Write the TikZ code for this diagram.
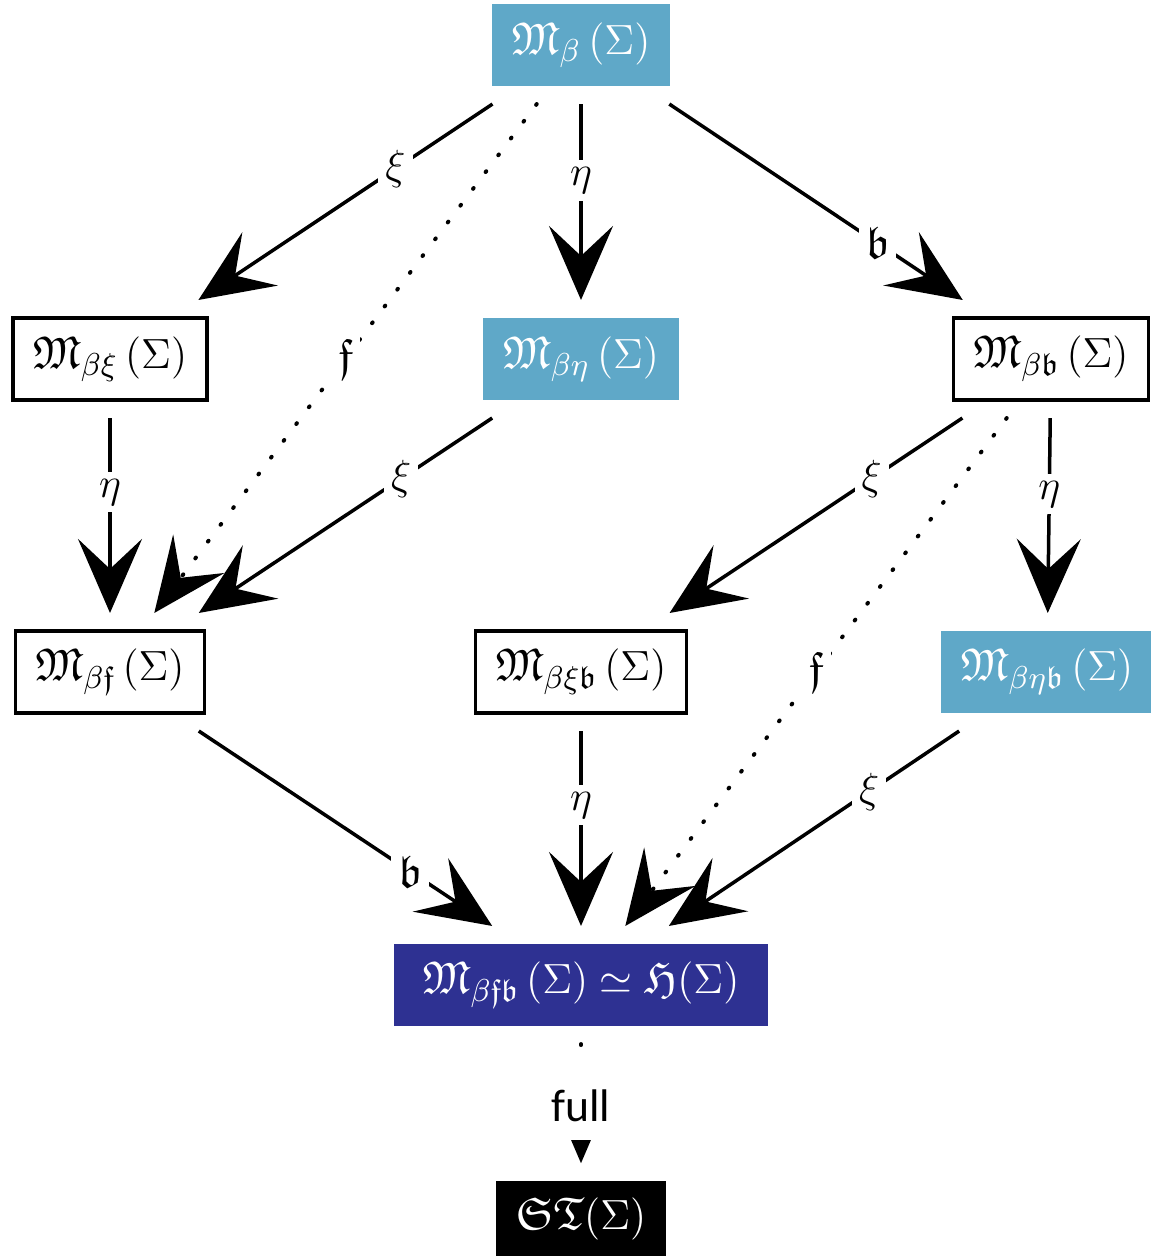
\documentclass[tikz,border=0pt]{standalone}
\usepackage{amssymb}
\usepackage{fontspec}
\newfontfamily\fullfont{Carlito}
\usetikzlibrary{arrows.meta}
\definecolor{mlightblue}{HTML}{5FA8C8}
\definecolor{mdarkblue}{HTML}{2E3192}

\begin{document}
\begin{tikzpicture}[x=0.01cm, y=-0.01cm,
    every node/.style={font=\fontsize{13}{16}\selectfont},
    mbox/.style={draw=black, line width=0.035cm, minimum height=0.82cm, inner xsep=0.2cm, outer sep=0.18cm},
    mfill/.style={fill=#1, text=white, minimum height=0.82cm, inner xsep=0.2cm, outer sep=0.18cm},
    arr/.style={-{Stealth[length=0.74cm, width=0.64cm, inset=0.3cm]}, line width=0.035cm},
    dotarr/.style={arr, dash pattern=on 0.01cm off 0.2cm, line cap=round, line width=0.04cm},
    lbl/.style={fill=white, inner sep=2pt}]
  \useasboundingbox (0,0) rectangle (1150,1256);

  \node[mfill=mlightblue] (top) at (581,45) {$\mathfrak{M}_{\beta}\,(\Sigma)$};
  \node[mbox] (xi) at (110,359) {$\mathfrak{M}_{\beta\xi}\,(\Sigma)$};
  \node[mfill=mlightblue] (eta) at (581,359) {$\mathfrak{M}_{\beta\eta}\,(\Sigma)$};
  \node[mbox] (b) at (1051,359) {$\mathfrak{M}_{\beta\mathfrak{b}}\,(\Sigma)$};
  \node[mbox] (f) at (110,672) {$\mathfrak{M}_{\beta\mathfrak{f}}\,(\Sigma)$};
  \node[mbox] (xib) at (581,672) {$\mathfrak{M}_{\beta\xi\mathfrak{b}}\,(\Sigma)$};
  \node[mfill=mlightblue] (etab) at (1047,672) {$\mathfrak{M}_{\beta\eta\mathfrak{b}}\,(\Sigma)$};
  \node[mfill=mdarkblue, inner xsep=0.29cm] (fb) at (581,985) {$\mathfrak{M}_{\beta\mathfrak{f}\mathfrak{b}}\,(\Sigma)\simeq\mathfrak{H}(\Sigma)$};
  \node[mfill=black, minimum height=0.75cm] (st) at (581,1219) {$\mathfrak{S}\mathfrak{T}(\Sigma)$};

  % first step
  \draw[arr] (top) -- node[lbl, pos=0.33] {$\xi$} (xi);
  \draw[arr] (top) -- node[lbl, pos=0.39] {$\eta$} (eta);
  \draw[arr] (top) -- node[lbl, pos=0.71] {$\mathfrak{b}$} (b);
  \draw[dotarr] (top) -- node[lbl, pos=0.5] {$\mathfrak{f}$} (f);

  % second step
  \draw[arr] (xi) -- node[lbl, pos=0.38] {$\eta$} (f);
  \draw[arr] (eta) -- node[lbl, pos=0.31] {$\xi$} (f);
  \draw[arr] (b) -- node[lbl, pos=0.31] {$\xi$} (xib);
  \draw[arr] (b) -- node[lbl, pos=0.39] {$\eta$} (etab);
  \draw[dotarr] (b) -- node[lbl, pos=0.5] {$\mathfrak{f}$} (fb);

  % third step
  \draw[arr] (f) -- node[lbl, pos=0.72] {$\mathfrak{b}$} (fb);
  \draw[arr] (xib) -- node[lbl, pos=0.38] {$\eta$} (fb);
  \draw[arr] (etab) -- node[lbl, pos=0.31] {$\xi$} (fb);

  \draw[dotarr, dash pattern=on 0.01cm off 0.3cm, -{Triangle[length=0.25cm, width=0.2cm]}] (fb) -- node[lbl, pos=0.52, inner ysep=5pt] {\fullfont full} (st);
\end{tikzpicture}
\end{document}
